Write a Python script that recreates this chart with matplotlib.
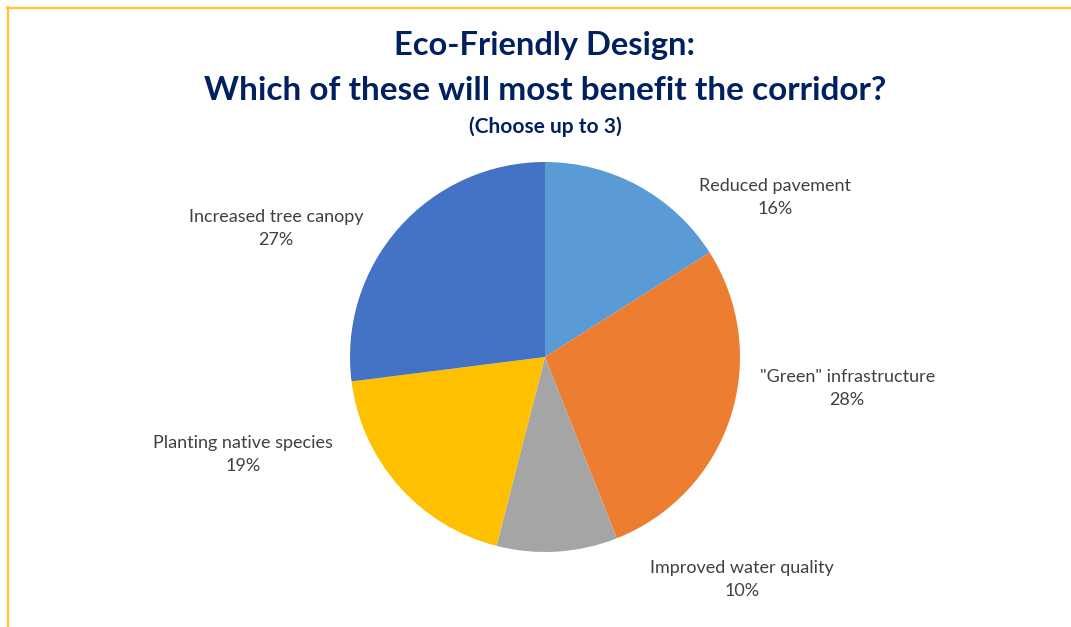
import matplotlib
matplotlib.use("Agg")
import matplotlib.pyplot as plt
from matplotlib.lines import Line2D

labels = ["Reduced pavement", "\"Green\" infrastructure", "Improved water quality",
          "Planting native species", "Increased tree canopy"]
shares = [16, 28, 10, 19, 27]
colors = ["#5B9BD5", "#ED7D31", "#A5A5A5", "#FFC000", "#4472C4"]

W, H = 1071, 627
fig = plt.figure(figsize=(W / 100, H / 100), dpi=100)
fig.patch.set_facecolor("white")

# pie axes placed by pixels: centre (545, 357), radius 195
cx, cy, r = 545, 357, 195
ax = fig.add_axes([(cx - r) / W, (H - cy - r) / H, 2 * r / W, 2 * r / H])
ax.pie(shares, colors=colors, startangle=90, counterclock=False,
       wedgeprops=dict(linewidth=0))
ax.set_xlim(-1, 1)
ax.set_ylim(-1, 1)
ax.set_aspect("equal")
ax.axis("off")

# label spots in pie radius units (best-fit style placement)
spots = [(1.18, 0.82), (1.55, -0.16), (1.01, -1.14), (-1.55, -0.50), (-1.38, 0.66)]
for lab, val, (x, y) in zip(labels, shares, spots):
    ax.text(x, y, f"{lab}\n{val}%", ha="center", va="center", fontsize=13,
            family="Lato", color="#404040", linespacing=1.55, clip_on=False)

navy = "#002060"
fig.text(545 / W, 1 - 46 / H, "Eco-Friendly Design:", ha="center", va="center",
         fontsize=23.5, family="Lato", fontweight="bold", color=navy)
fig.text(545 / W, 1 - 90 / H, "Which of these will most benefit the corridor?",
         ha="center", va="center", fontsize=24, family="Lato", fontweight="bold", color=navy)
fig.text(545 / W, 1 - 127 / H, "(Choose up to 3)", ha="center", va="center",
         fontsize=15, family="Lato", fontweight="bold", color=navy)

# yellow frame (top and left edges visible)
border = "#FFC72C"
fig.add_artist(Line2D([7 / W, 1], [1 - 7.5 / H, 1 - 7.5 / H], color=border, lw=1.6,
                      transform=fig.transFigure))
fig.add_artist(Line2D([7.5 / W, 7.5 / W], [0, 1 - 7 / H], color=border, lw=1.6,
                      transform=fig.transFigure))

fig.savefig("out.png", dpi=100)
